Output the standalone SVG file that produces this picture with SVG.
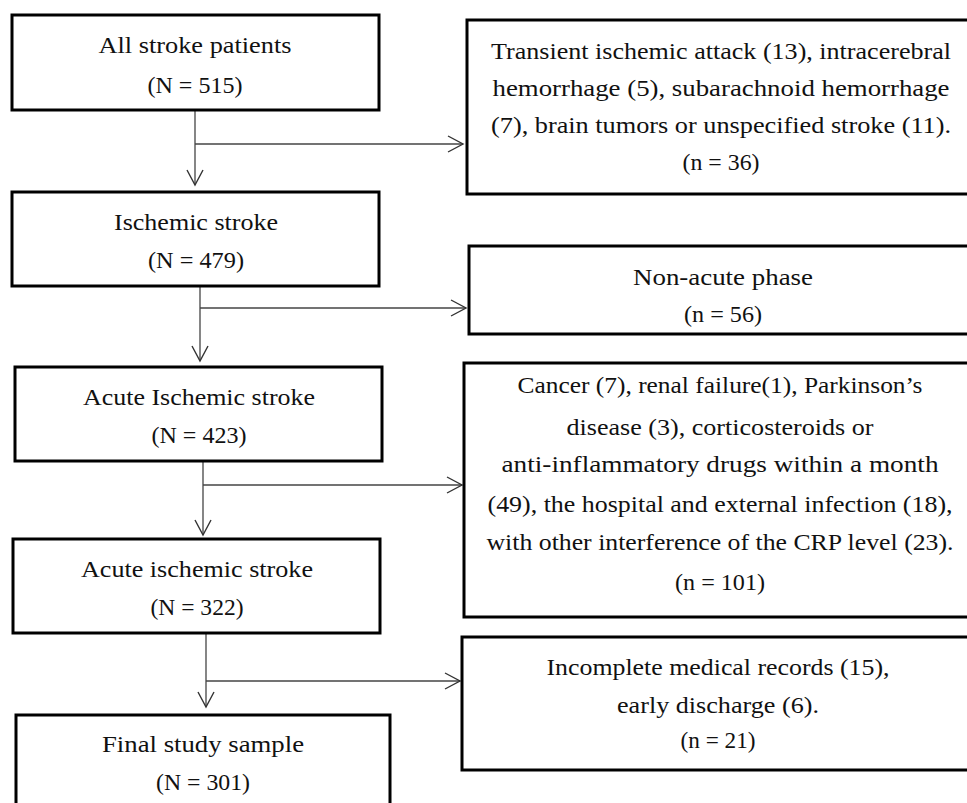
<svg xmlns="http://www.w3.org/2000/svg" width="967" height="803" viewBox="0 0 967 803">
<style>
.box{fill:#fff;stroke:#000;stroke-width:3}
.t{font-family:"Liberation Serif","Times New Roman",serif;font-size:24px;fill:#111;text-anchor:middle}
.c{fill:none;stroke:#444;stroke-width:1.3}
</style>
<defs>
<marker id="ah" markerUnits="userSpaceOnUse" markerWidth="20" markerHeight="20" viewBox="-16 -10 18 20" refX="0" refY="0" orient="auto">
<path d="M-15,-8 L0,0 L-15,8" fill="none" stroke="#333" stroke-width="1.4"/>
</marker>
</defs>
<rect width="967" height="803" fill="#fff"/>
<g id="connectors">
<path class="c" d="M195,110 V185" marker-end="url(#ah)"/>
<path class="c" d="M195,144 H463" marker-end="url(#ah)"/>
<path class="c" d="M200,286 V361" marker-end="url(#ah)"/>
<path class="c" d="M200,308 H466" marker-end="url(#ah)"/>
<path class="c" d="M203,461 V535" marker-end="url(#ah)"/>
<path class="c" d="M203,485 H462" marker-end="url(#ah)"/>
<path class="c" d="M206,633 V707" marker-end="url(#ah)"/>
<path class="c" d="M206,681 H460" marker-end="url(#ah)"/>
</g>
<g id="n1"><rect class="box" x="12" y="15" width="367" height="95"/>
<text class="t" x="195" y="53" textLength="193" lengthAdjust="spacingAndGlyphs">All stroke patients</text><text class="t" x="195" y="93" textLength="95" lengthAdjust="spacingAndGlyphs">(N = 515)</text></g>
<g id="n2"><rect class="box" x="467" y="20" width="520" height="174"/>
<text class="t" x="721" y="59" textLength="460" lengthAdjust="spacingAndGlyphs">Transient ischemic attack (13), intracerebral</text>
<text class="t" x="721" y="96" textLength="457" lengthAdjust="spacingAndGlyphs">hemorrhage (5), subarachnoid hemorrhage</text>
<text class="t" x="721" y="133" textLength="460" lengthAdjust="spacingAndGlyphs">(7), brain tumors or unspecified stroke (11).</text>
<text class="t" x="721" y="170" textLength="77" lengthAdjust="spacingAndGlyphs">(n = 36)</text></g>
<g id="n3"><rect class="box" x="12" y="192" width="367" height="94"/>
<text class="t" x="196" y="230" textLength="164" lengthAdjust="spacingAndGlyphs">Ischemic stroke</text><text class="t" x="196" y="268" textLength="96" lengthAdjust="spacingAndGlyphs">(N = 479)</text></g>
<g id="n4"><rect class="box" x="469" y="246" width="520" height="88"/>
<text class="t" x="723" y="285" textLength="180" lengthAdjust="spacingAndGlyphs">Non-acute phase</text><text class="t" x="723" y="322" textLength="78" lengthAdjust="spacingAndGlyphs">(n = 56)</text></g>
<g id="n5"><rect class="box" x="15" y="367" width="367" height="94"/>
<text class="t" x="199" y="405" textLength="232" lengthAdjust="spacingAndGlyphs">Acute Ischemic stroke</text><text class="t" x="199" y="443" textLength="95" lengthAdjust="spacingAndGlyphs">(N = 423)</text></g>
<g id="n6"><rect class="box" x="464" y="363" width="525" height="254"/>
<text class="t" x="720" y="393" textLength="405" lengthAdjust="spacingAndGlyphs">Cancer (7), renal failure(1), Parkinson’s</text>
<text class="t" x="720" y="435" textLength="307" lengthAdjust="spacingAndGlyphs">disease (3), corticosteroids or</text>
<text class="t" x="720" y="472" textLength="437" lengthAdjust="spacingAndGlyphs">anti-inflammatory drugs within a month</text>
<text class="t" x="720" y="512" textLength="465" lengthAdjust="spacingAndGlyphs">(49), the hospital and external infection (18),</text>
<text class="t" x="720" y="550" textLength="467" lengthAdjust="spacingAndGlyphs">with other interference of the CRP level (23).</text>
<text class="t" x="720" y="590" textLength="90" lengthAdjust="spacingAndGlyphs">(n = 101)</text></g>
<g id="n7"><rect class="box" x="13" y="539" width="367" height="94"/>
<text class="t" x="197" y="577" textLength="232" lengthAdjust="spacingAndGlyphs">Acute ischemic stroke</text><text class="t" x="197" y="615" textLength="93" lengthAdjust="spacingAndGlyphs">(N = 322)</text></g>
<g id="n8"><rect class="box" x="16" y="715" width="374" height="110"/>
<text class="t" x="203" y="752" textLength="202" lengthAdjust="spacingAndGlyphs">Final study sample</text><text class="t" x="203" y="790" textLength="94" lengthAdjust="spacingAndGlyphs">(N = 301)</text></g>
<g id="n9"><rect class="box" x="462" y="637" width="525" height="133"/>
<text class="t" x="718" y="675" textLength="343" lengthAdjust="spacingAndGlyphs">Incomplete medical records (15),</text>
<text class="t" x="718" y="713" textLength="202" lengthAdjust="spacingAndGlyphs">early discharge (6).</text>
<text class="t" x="718" y="748" textLength="75" lengthAdjust="spacingAndGlyphs">(n = 21)</text></g>
</svg>
